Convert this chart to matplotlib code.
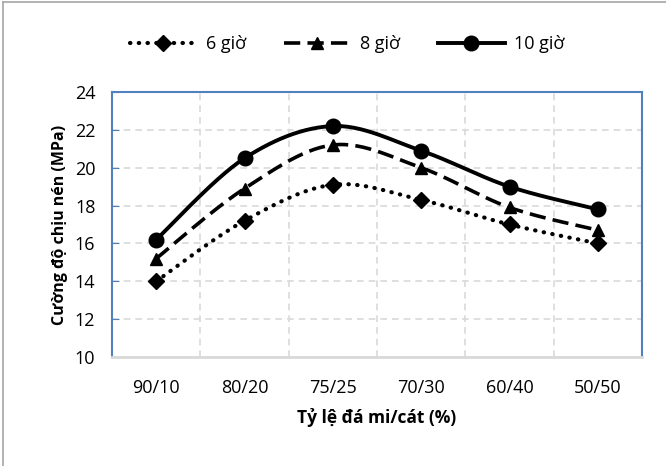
import numpy as np
import matplotlib.pyplot as plt
from matplotlib.lines import Line2D

# Datos
categorias = ['90/10', '80/20', '75/25', '70/30', '60/40', '50/50']
series_6h = [14.0, 17.2, 19.1, 18.3, 17.0, 16.0]
series_8h = [15.2, 18.9, 21.2, 20.0, 17.9, 16.7]
series_10h = [16.2, 20.5, 22.2, 20.9, 19.0, 17.8]
etiquetas = ['6 giờ', '8 giờ', '10 giờ']

plt.rcParams['font.family'] = ['Open Sans', 'DejaVu Sans']


def suavizar(y, n=30):
  # curva tipo Catmull-Rom como el "smoothed line" de Excel
  x = np.arange(len(y), dtype=float)
  y = np.asarray(y, dtype=float)
  xs, ys = [], []
  for i in range(len(y) - 1):
    p0 = max(i - 1, 0)
    p3 = min(i + 2, len(y) - 1)
    c1x = x[i] + (x[i + 1] - x[p0]) / 6.0
    c1y = y[i] + (y[i + 1] - y[p0]) / 6.0
    c2x = x[i + 1] - (x[p3] - x[i]) / 6.0
    c2y = y[i + 1] - (y[p3] - y[i]) / 6.0
    t = np.linspace(0, 1, n)
    a = (1 - t) ** 3
    b = 3 * (1 - t) ** 2 * t
    c = 3 * (1 - t) * t ** 2
    d = t ** 3
    xs.append(a * x[i] + b * c1x + c * c2x + d * x[i + 1])
    ys.append(a * y[i] + b * c1y + c * c2y + d * y[i + 1])
  return np.concatenate(xs), np.concatenate(ys)


fig = plt.figure(figsize=(6.66, 4.66), dpi=100)
ax = fig.add_axes([112 / 666, 1 - 357 / 466, 530 / 666, 265 / 466])

# borde de la figura (solo arriba e izquierda visibles)
fig.add_artist(Line2D([3 / 666, 3 / 666], [0, 1 - 2 / 466], color='#A6A6A6', lw=1.2))
fig.add_artist(Line2D([3 / 666, 1], [1 - 2 / 466, 1 - 2 / 466], color='#A6A6A6', lw=1.2))

x = np.arange(len(categorias))
estilos = [
  (series_6h, (0, (0.1, 2.0)), 'D', 8, 3.0),
  (series_8h, (0, (4.5, 2.0)), '^', 9, 2.6),
  (series_10h, '-', 'o', 10.5, 2.8),
]

handles = []
for (datos, ls, mk, ms, lw), lab in zip(estilos, etiquetas):
  xs, ys = suavizar(datos)
  ln, = ax.plot(xs, ys, color='k', linestyle=ls, linewidth=lw,
                dash_capstyle='round' if mk == 'D' else 'butt', zorder=3)
  ax.plot(x, datos, linestyle='none', marker=mk, markersize=ms, color='k', zorder=4)
  handles.append(Line2D([], [], color='k', linestyle=ls, linewidth=lw,
                        dash_capstyle='round' if mk == 'D' else 'butt',
                        marker=mk, markersize=ms, markevery=[1]))

ax.set_xlim(-0.5, len(categorias) - 0.5)
ax.set_ylim(10, 24)
ax.set_yticks(np.arange(10, 25, 2))
ax.set_xticks(x)
ax.set_xticklabels(categorias, fontsize=13)
ax.tick_params(axis='y', labelsize=13, direction='in', length=5, color='#4F81BD', pad=12)
ax.tick_params(axis='x', length=0, pad=16)

ax.set_xticks(np.arange(0.5, len(categorias) - 0.5), minor=True)
ax.tick_params(axis='x', which='minor', length=0)
ax.grid(True, which='minor', axis='x', color='#D9D9D9', linestyle=(0, (4, 3)), linewidth=1.2)
ax.grid(True, which='major', axis='y', color='#D9D9D9', linestyle=(0, (4, 3)), linewidth=1.2)
ax.set_axisbelow(True)

for s in ['left', 'top', 'right']:
  ax.spines[s].set_color('#4F81BD')
  ax.spines[s].set_linewidth(1.5)
ax.spines['bottom'].set_color('#D9D9D9')
ax.spines['bottom'].set_linewidth(2)

ax.set_xlabel('Tỷ lệ đá mi/cát (%)', fontsize=12.5, fontweight='bold', labelpad=8)
ax.set_ylabel('Cường độ chịu nén (MPa)', fontsize=11.5, fontweight='bold', labelpad=5)

fig.legend(handles, etiquetas, loc='center', bbox_to_anchor=(347 / 666, 1 - 44 / 466),
           ncol=3, frameon=False, fontsize=13, handlelength=3.7, columnspacing=2.1,
           handletextpad=0.5)

plt.savefig('out.png', dpi=100)
